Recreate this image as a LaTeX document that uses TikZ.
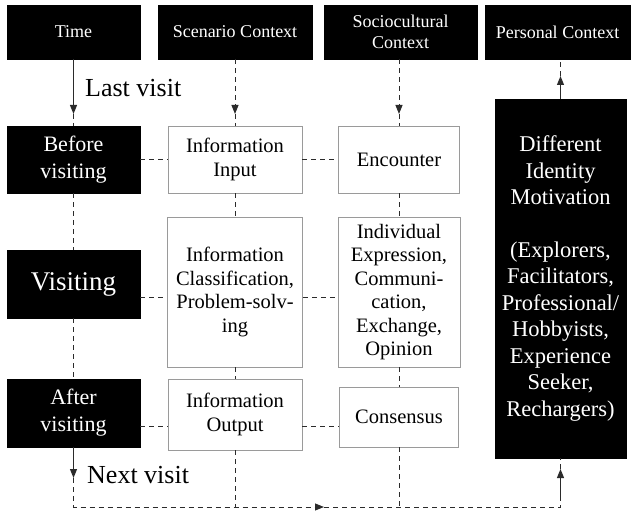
\documentclass[tikz,border=0pt]{standalone}
\usepackage{fontspec}
\setmainfont{Liberation Serif}
\usetikzlibrary{arrows.meta, positioning, calc}
\definecolor{LineDark}{HTML}{2B2B2B}
\definecolor{BoxGray}{HTML}{9A9A9A}

\begin{document}
\begin{tikzpicture}[
    x=1pt, y=-1pt,
    headbox/.style={rectangle, fill=black, draw=black, text=white, inner sep=0pt, align=center, font=\rmfamily\fontsize{18}{21}\selectfont},
    stagebox/.style={headbox, font=\rmfamily\fontsize{22}{27}\selectfont},
    infobox/.style={rectangle, draw=BoxGray, fill=white, line width=0.9pt, inner sep=0pt, align=center, font=\rmfamily\fontsize{20.5}{23.5}\selectfont},
    link/.style={LineDark, line width=1pt, dash pattern=on 5pt off 4pt},
    flow/.style={LineDark, line width=1pt},
    pointer/.style={-{Triangle[length=9pt, width=7pt]}},
    visitlabel/.style={anchor=base west, inner sep=0pt, font=\rmfamily\fontsize{26}{30}\selectfont},
]
\useasboundingbox (0,0) rectangle (633,511);

% Headers
\node[headbox, minimum width=133pt, minimum height=54pt] (time) at (73.5,32) {Time};
\node[headbox, minimum width=154pt, minimum height=54pt] (scen) at (235,32) {Scenario Context};
\node[headbox, minimum width=153pt, minimum height=54pt] (socio) at (400.5,32) {Sociocultural\\Context};
\node[headbox, minimum width=145pt, minimum height=54pt] (pers) at (557.5,32) {Personal Context};

% Stages
\node[stagebox, minimum width=133pt, minimum height=67pt] (before) at (73.5,159.5) {Before\\visiting};
\node[stagebox, minimum width=133pt, minimum height=68pt, font=\rmfamily\fontsize{27}{30}\selectfont] (visit) at (73.5,284) {Visiting};
\node[stagebox, minimum width=133pt, minimum height=68pt] (after) at (73.5,413) {After\\visiting};

% Scenario column
\node[infobox, minimum width=134pt, minimum height=67pt] (infoin) at (235,159.5) {Information\\Input};
\node[infobox, minimum width=135pt, minimum height=150pt] (infocl) at (235,292) {Information\\Classification,\\Problem-solv-\\ing};
\node[infobox, minimum width=134pt, minimum height=71pt] (infoout) at (235,414.5) {Information\\Output};

% Sociocultural column
\node[infobox, minimum width=121pt, minimum height=67pt] (enc) at (399,159.5) {Encounter};
\node[infobox, minimum width=122pt, minimum height=150pt] (indiv) at (399,292) {Individual\\Expression,\\Communi-\\cation,\\Exchange,\\Opinion};
\node[infobox, minimum width=119pt, minimum height=60pt] (cons) at (399,417) {Consensus};

% Personal column
\node[headbox, minimum width=131pt, minimum height=359pt, font=\rmfamily\fontsize{22.5}{26.5}\selectfont] (ident) at (560.5,278.5)
    {Different\\Identity\\Motivation\\[26pt](Explorers,\\Facilitators,\\Professional/\\Hobbyists,\\Experience\\Seeker,\\Rechargers)};

% Labels
\node[visitlabel] (last) at (85,97) {Last visit};
\node[visitlabel] (next) at (87,483) {Next visit};

% Tips and corners
\coordinate (lasttip) at (time.south |- 0,114);
\coordinate (scentip) at (scen.south |- 0,114);
\coordinate (sociotip) at (enc.north |- 0,114);
\coordinate (perstip) at (ident.north |- 0,76);
\coordinate (rowtwo) at (0,297);
\coordinate (rowthree) at (0,426);
\coordinate (nexttip) at (after.south |- 0,478);
\coordinate (lowleft) at (after.south |- 0,507);
\coordinate (lowtip) at (324,507);
\coordinate (lowright) at (ident.south |- 0,507);
\coordinate (identfoot) at (ident.south |- 0,500);
\coordinate (identtip) at (ident.south |- 0,469);

% Top arrows
\draw[flow, pointer] (time) -- (lasttip);
\draw[link] (lasttip) -- (before);
\draw[link, pointer] (scen) -- (scentip);
\draw[link] (scentip) -- (infoin);
\draw[link, pointer] (sociotip |- socio.south) -- (sociotip);
\draw[link] (sociotip) -- (enc);
\draw[flow, pointer] (ident) -- (perstip);
\draw[link] (perstip) -- (perstip |- pers.south);

% Vertical links
\draw[link] (before) -- (visit);
\draw[link] (visit) -- (after);
\draw[link] (infoin) -- (infocl);
\draw[link] (infocl) -- (infoout);
\draw[link] (enc) -- (indiv);
\draw[link] (indiv) -- (cons);

% Horizontal links
\draw[link] (before) -- (infoin);
\draw[link] (infoin) -- (enc);
\draw[link] (visit.east |- rowtwo) -- (infocl.west |- rowtwo);
\draw[link] (infocl.east |- rowtwo) -- (indiv.west |- rowtwo);
\draw[link] (after.east |- rowthree) -- (infoout.west |- rowthree);
\draw[link] (infoout.east |- rowthree) -- (cons.west |- rowthree);

% Bottom loop
\draw[flow, pointer] (after) -- (nexttip);
\draw[link, pointer] (nexttip) -- (lowleft) -- (lowtip);
\draw[link] (lowtip) -- (lowright) -- (identfoot);
\draw[flow, pointer] (identfoot) -- (identtip);
\draw[link] (identtip) -- (ident);
\draw[link] (infoout) -- (infoout.south |- lowleft);
\draw[link] (cons) -- (cons.south |- lowleft);

\end{tikzpicture}
\end{document}
